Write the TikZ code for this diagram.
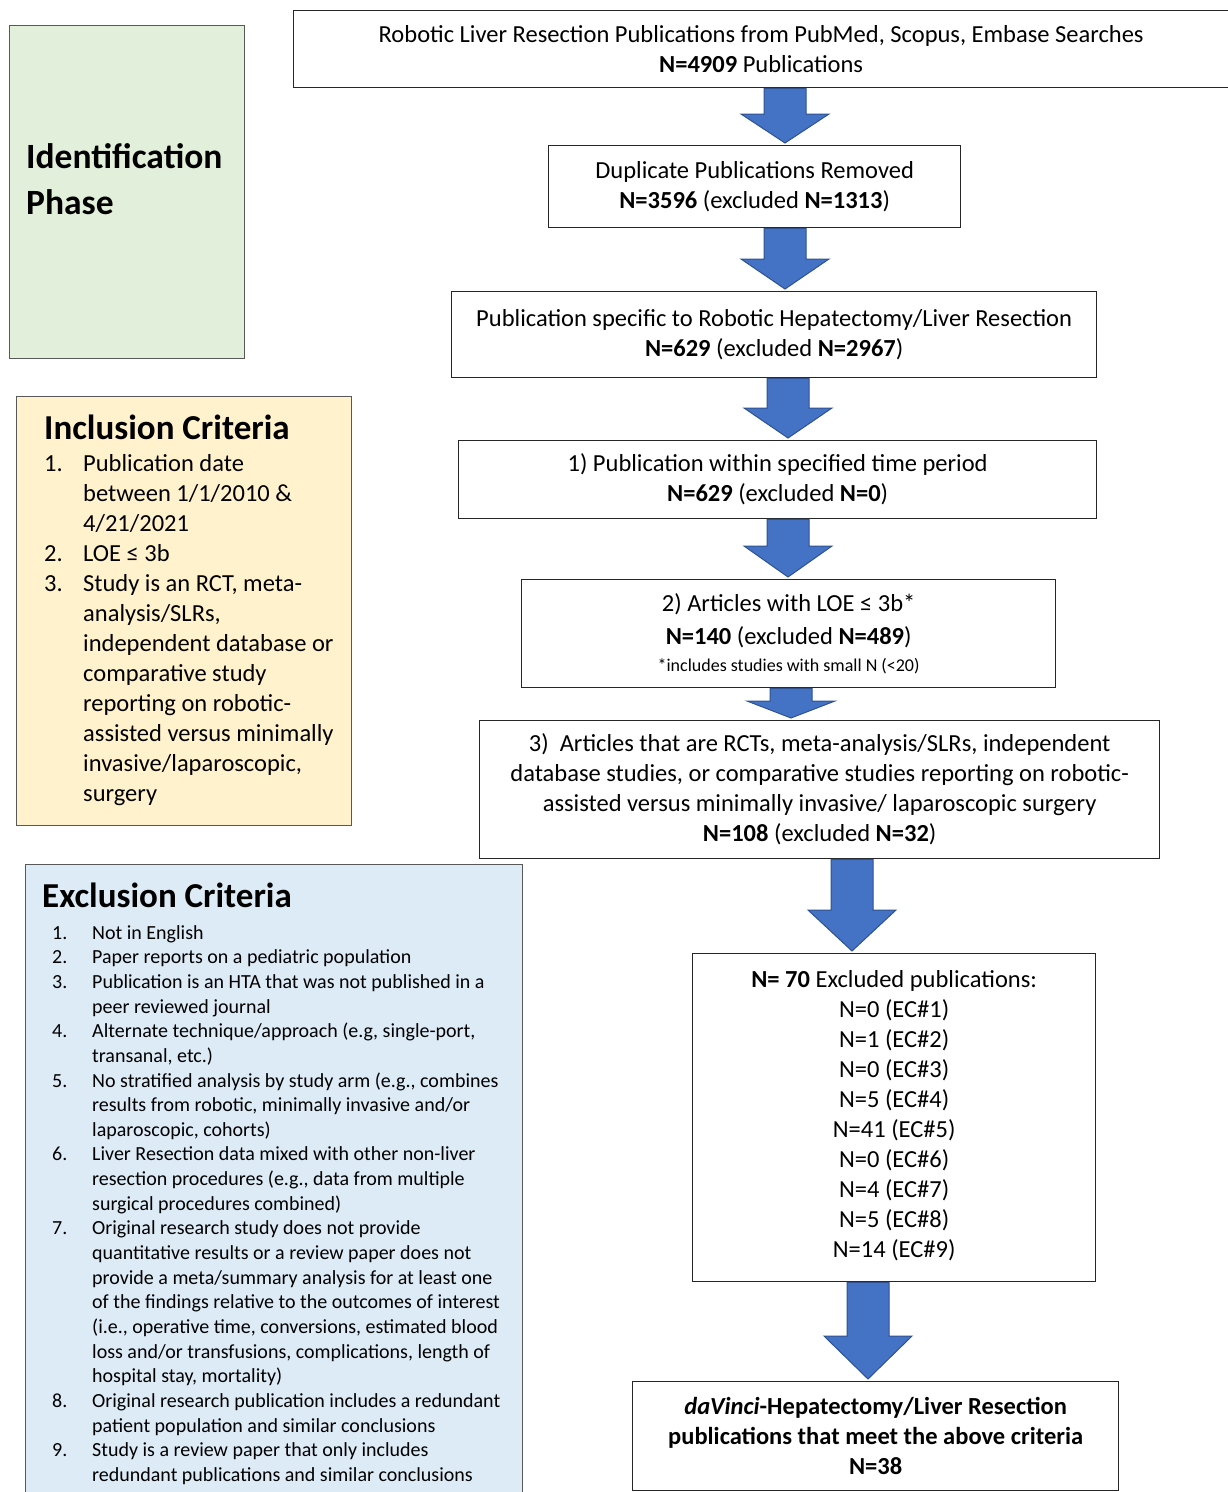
\documentclass[tikz,border=0pt]{standalone}
\usepackage{fontspec}
\setmainfont{Carlito}
\usetikzlibrary{calc}

\definecolor{phasegreen}{HTML}{E2EFDA}
\definecolor{inclyellow}{HTML}{FFF2CC}
\definecolor{exclblue}{HTML}{DDEBF7}
\definecolor{arrowblue}{HTML}{4472C4}
\definecolor{arrowedge}{HTML}{2F528F}

\tikzset{
  flowbox/.style={draw=black!85, line width=1.3pt, anchor=north west, align=center,
    inner sep=0pt, font=\fontsize{24.5}{30}\selectfont},
  sidebox/.style={draw=black!65, line width=1.3pt, anchor=north west, inner sep=0pt},
  listtext/.style={anchor=north west, align=left, inner sep=0pt},
  fatarrow/.style={fill=arrowblue, draw=arrowedge, line width=1pt, line join=miter},
}

% block arrow from the bottom of #1 to the top of #2, at x=#3, head length #4
\newcommand\fatarrow[4]{%
  \draw[fatarrow] let \p1=(#1.south), \p2=(#2.north) in
    ({#3pt-21pt},\y1) -- ({#3pt+21pt},\y1) -- ({#3pt+21pt},{\y2+#4pt+2pt})
    -- ({#3pt+44pt},{\y2+#4pt+2pt}) -- ({#3pt},{\y2+2pt})
    -- ({#3pt-44pt},{\y2+#4pt+2pt}) -- ({#3pt-21pt},{\y2+#4pt+2pt}) -- cycle;}
\newcommand\inum[1]{\makebox[39pt][l]{#1}}
\newcommand\enum[1]{\makebox[40pt][l]{#1}}

\begin{document}
\begin{tikzpicture}[x=1pt,y=-1pt]
  \useasboundingbox (0,0) rectangle (1228,1492);

  % left column
  \node[sidebox, fill=phasegreen, minimum width=235, minimum height=333] (phase) at (9,25) {};
  \node[listtext, font=\fontsize{35.5}{46}\selectfont\bfseries] (phasetext) at (26,143)
    {Identification\\Phase};

  \node[sidebox, fill=inclyellow, minimum width=335, minimum height=429] (incl) at (16,396) {};
  \node[anchor=base west, inner sep=0pt, font=\fontsize{35}{40}\selectfont\bfseries] (incltitle)
    at (44,439) {Inclusion Criteria};
  \node[listtext, font=\fontsize{24.5}{30}\selectfont] (incllist) at (44,454) {%
    \inum{1.}Publication date\\
    \hspace*{39pt}between 1/1/2010 \&\\
    \hspace*{39pt}4/21/2021\\
    \inum{2.}LOE ≤ 3b\\
    \inum{3.}Study is an RCT, meta-\\
    \hspace*{39pt}analysis/SLRs,\\
    \hspace*{39pt}independent database or\\
    \hspace*{39pt}comparative study\\
    \hspace*{39pt}reporting on robotic-\\
    \hspace*{39pt}assisted versus minimally\\
    \hspace*{39pt}invasive/laparoscopic,\\
    \hspace*{39pt}surgery};

  \node[sidebox, fill=exclblue, minimum width=497, minimum height=640] (excl) at (25,864) {};
  \node[anchor=base west, inner sep=0pt, font=\fontsize{35}{40}\selectfont\bfseries] (excltitle)
    at (42,907) {Exclusion Criteria};
  \node[listtext, font=\fontsize{20}{24.65}\selectfont] (excllist) at (52,925) {%
    \enum{1.}Not in English\\
    \enum{2.}Paper reports on a pediatric population\\
    \enum{3.}Publication is an HTA that was not published in a\\
    \hspace*{40pt}peer reviewed journal\\
    \enum{4.}Alternate technique/approach (e.g, single-port,\\
    \hspace*{40pt}transanal, etc.)\\
    \enum{5.}No stratified analysis by study arm (e.g., combines\\
    \hspace*{40pt}results from robotic, minimally invasive and/or\\
    \hspace*{40pt}laparoscopic, cohorts)\\
    \enum{6.}Liver Resection data mixed with other non-liver\\
    \hspace*{40pt}resection procedures (e.g., data from multiple\\
    \hspace*{40pt}surgical procedures combined)\\
    \enum{7.}Original research study does not provide\\
    \hspace*{40pt}quantitative results or a review paper does not\\
    \hspace*{40pt}provide a meta/summary analysis for at least one\\
    \hspace*{40pt}of the findings relative to the outcomes of interest\\
    \hspace*{40pt}(i.e., operative time, conversions, estimated blood\\
    \hspace*{40pt}loss and/or transfusions, complications, length of\\
    \hspace*{40pt}hospital stay, mortality)\\
    \enum{8.}Original research publication includes a redundant\\
    \hspace*{40pt}patient population and similar conclusions\\
    \enum{9.}Study is a review paper that only includes\\
    \hspace*{40pt}redundant publications and similar conclusions};

  % flow
  \node[flowbox, minimum width=935, minimum height=77] (search) at (293,10)
    {Robotic Liver Resection Publications from PubMed, Scopus, Embase Searches\\
     \textbf{N=4909} Publications};
  \node[flowbox, minimum width=412, minimum height=82] (dupl) at (548,145)
    {Duplicate Publications Removed\\\textbf{N=3596} (excluded \textbf{N=1313})};
  \node[flowbox, minimum width=645, minimum height=86] (spec) at (451,291)
    {Publication specific to Robotic Hepatectomy/Liver Resection\\
     \textbf{N=629} (excluded \textbf{N=2967})};
  \node[flowbox, minimum width=638, minimum height=78] (period) at (458,440)
    {1) Publication within specified time period\\\textbf{N=629} (excluded \textbf{N=0})};
  \node[flowbox, minimum width=534, minimum height=108] (loe) at (521,579)
    {2) Articles with LOE ≤ 3b*\\[3pt]
     \textbf{N=140} (excluded \textbf{N=489})\\[-3pt]
     {\fontsize{18}{20}\selectfont *includes studies with small N (<20)}};
  \node[flowbox, minimum width=680, minimum height=138] (rct) at (479,720)
    {3)\ \ Articles that are RCTs, meta-analysis/SLRs, independent\\
     database studies, or comparative studies reporting on robotic-\\
     assisted versus minimally invasive/ laparoscopic surgery\\
     \textbf{N=108} (excluded \textbf{N=32})};
  \node[flowbox, minimum width=403, minimum height=328] (excluded) at (692,953)
    {\textbf{N= 70} Excluded publications:\\
     N=0 (EC\#1)\\N=1 (EC\#2)\\N=0 (EC\#3)\\N=5 (EC\#4)\\N=41 (EC\#5)\\
     N=0 (EC\#6)\\N=4 (EC\#7)\\N=5 (EC\#8)\\N=14 (EC\#9)\\[-22pt]};
  \node[flowbox, minimum width=486, minimum height=109, font=\fontsize{24.5}{30}\selectfont\bfseries]
    (final) at (632,1381)
    {\textit{daVinci}-Hepatectomy/Liver Resection\\
     publications that meet the above criteria\\N=38};

  \fatarrow{search}{dupl}{785}{29}
  \fatarrow{dupl}{spec}{785}{30}
  \fatarrow{spec}{period}{788}{30}
  \fatarrow{period}{loe}{788}{31}
  \fatarrow{loe}{rct}{791}{17}
  \fatarrow{rct}{excluded}{852}{41}
  \fatarrow{excluded}{final}{868}{43}
\end{tikzpicture}
\end{document}
